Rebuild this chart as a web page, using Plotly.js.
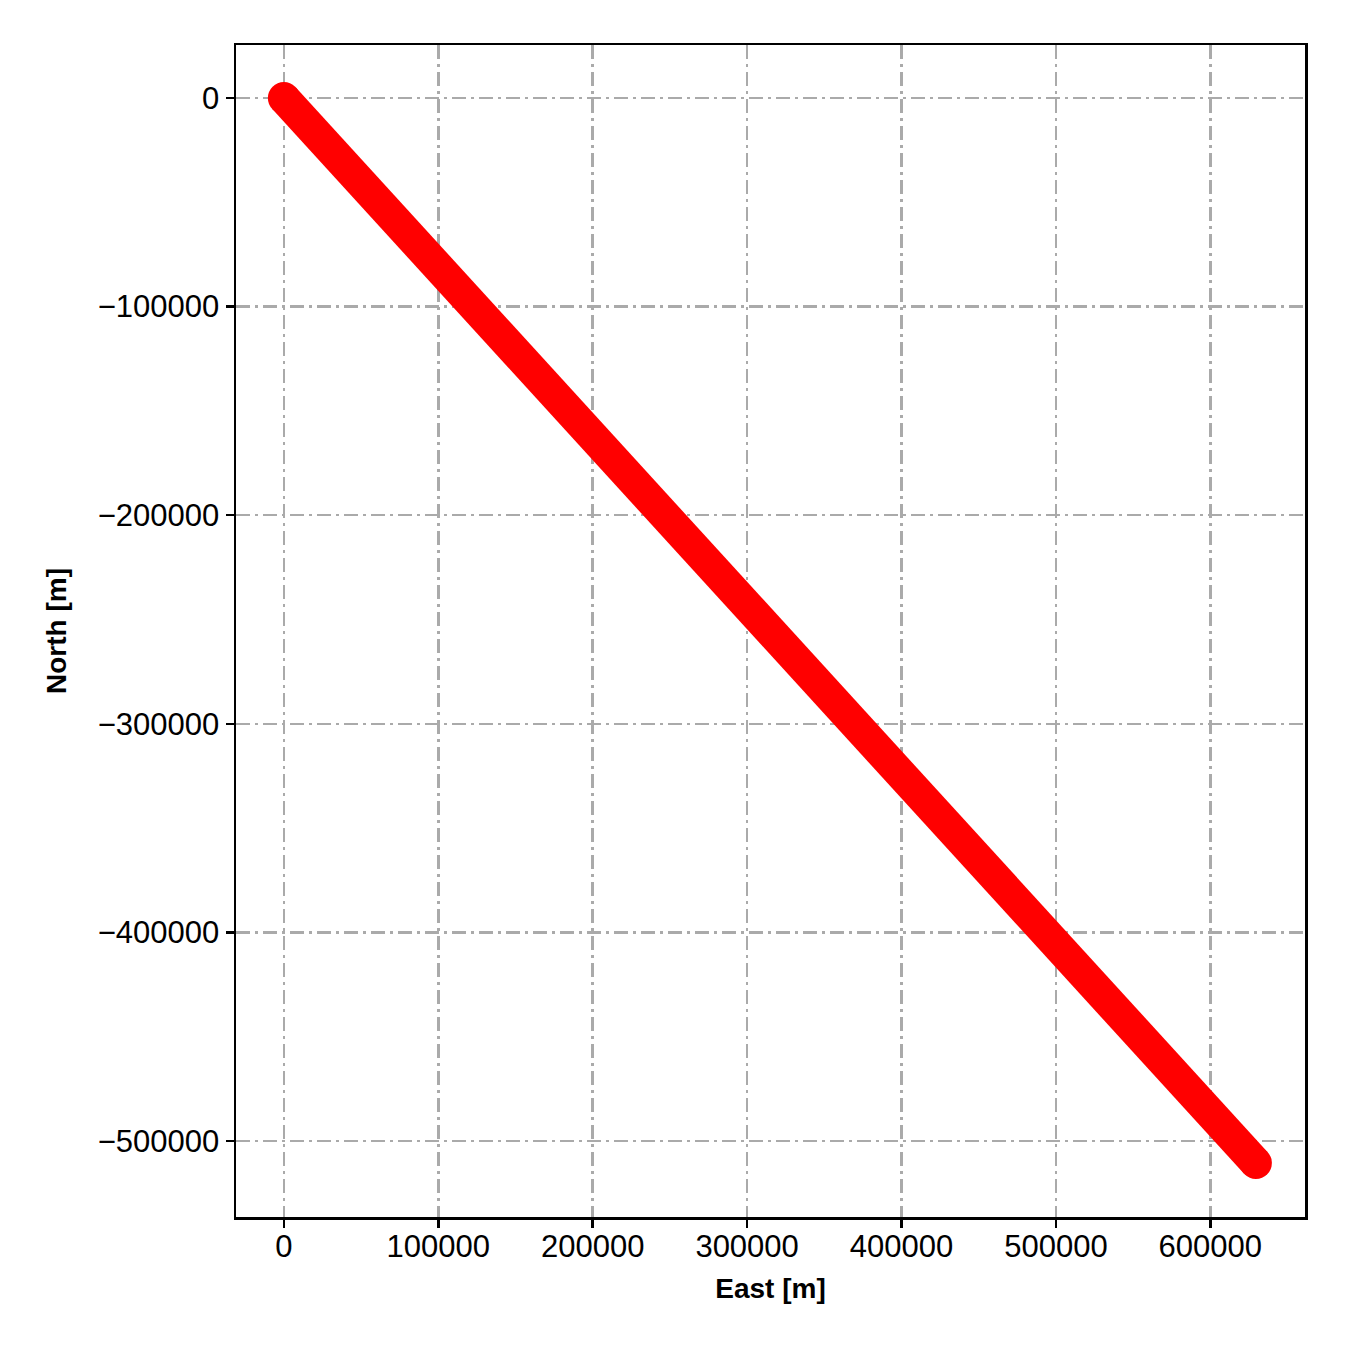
<!DOCTYPE html>
<html>
<head>
<meta charset="utf-8">
<script src="https://cdn.plot.ly/plotly-3.0.1.min.js"></script>
<style>body{margin:0;padding:0;background:#fff;}#chart{width:1350px;height:1350px;}</style>
</head>
<body>
<div id="chart"></div>
<script>
const east = [0, 629500];
const north = [0, -510500];
const xTicks = [0, 100000, 200000, 300000, 400000, 500000, 600000];
const yTicks = [0, -100000, -200000, -300000, -400000, -500000];

const trace = {
  x: east, y: north, type: 'scatter', mode: 'lines+markers',
  line: {color: '#ff0000', width: 32},
  marker: {color: '#ff0000', size: 32},
  hoverinfo: 'skip', showlegend: false
};
const FONT = 'Liberation Sans, Arial, sans-serif';
const axisCommon = {
  showline: true, linecolor: '#000', linewidth: 2.5, mirror: true,
  ticks: 'outside', ticklen: 8, tickwidth: 2.5, tickcolor: '#000',
  showgrid: true, gridcolor: '#aaaaaa', gridwidth: 2.5, griddash: '14px,5px,3px,5px',
  zeroline: false, tickfont: {family: FONT, size: 31, color: '#000'},
  automargin: false
};
const layout = {
  width: 1350, height: 1350,
  margin: {l: 236, r: 45, t: 45, b: 133},
  paper_bgcolor: '#fff', plot_bgcolor: '#fff',
  xaxis: Object.assign({}, axisCommon, {
    range: [-31000, 661300], tickmode: 'array', tickvals: xTicks,
    ticktext: xTicks.map(String), ticklabelstandoff: -8,
    title: {text: '<b>East [m]</b>', font: {family: FONT, size: 28, color: '#000'}, standoff: 16}
  }),
  yaxis: Object.assign({}, axisCommon, {
    range: [-536400, 25400], tickmode: 'array', tickvals: yTicks,
    ticktext: yTicks.map(v => v < 0 ? '\u2212' + Math.abs(v) : String(v)),
    title: {text: '<b>North [m]</b>', font: {family: FONT, size: 28, color: '#000'}, standoff: 23}
  })
};
Plotly.newPlot('chart', [trace], layout, {displayModeBar: false, staticPlot: true});
</script>
</body>
</html>
